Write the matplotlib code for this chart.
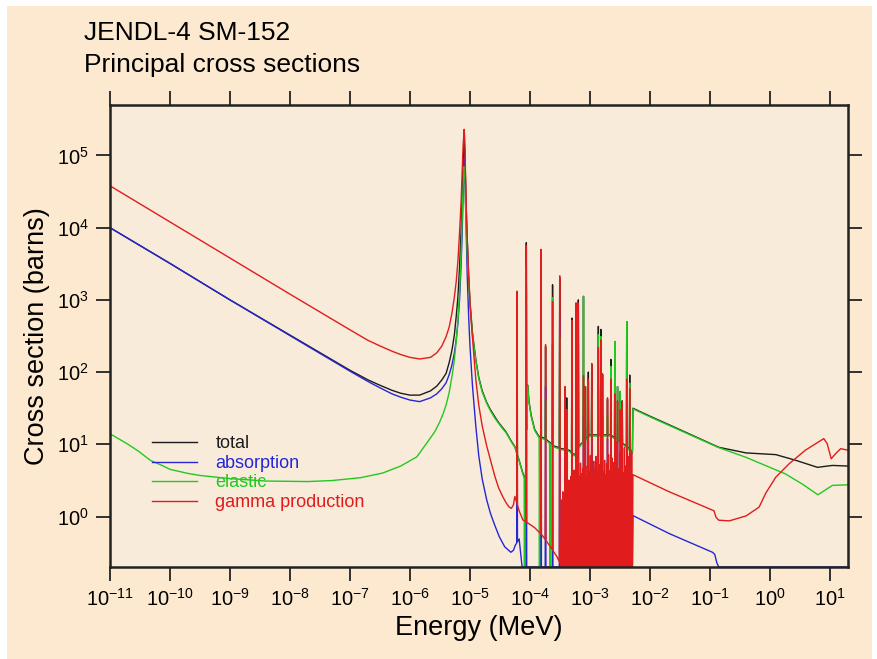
import numpy as np
import matplotlib.pyplot as plt
from matplotlib.patches import Rectangle
from matplotlib.ticker import NullLocator

plt.rcParams['font.family'] = ['Liberation Sans', 'DejaVu Sans']
plt.rcParams['axes.unicode_minus'] = False

# energies in MeV, cross sections in barns

# smooth parts of each curve
total_E = [1e-11, 1e-10, 1e-9, 1e-8, 1e-7, 2e-7, 3e-7, 5e-7, 7e-7, 1e-6,
           1.45e-6, 2.2e-6, 2.8e-6, 3.4e-6, 4.0e-6, 4.5e-6, 5.0e-6, 5.5e-6, 5.9e-6, 6.3e-6,
           6.7e-6, 7.1e-6, 7.4e-6, 7.7e-6, 8.0e-6, 8.2e-6, 8.4e-6, 8.7e-6, 9.0e-6, 9.5e-6,
           1.0e-5, 1.1e-5, 1.25e-5, 1.4e-5, 1.6e-5, 1.9e-5, 2.2e-5, 2.6e-5, 3.0e-5, 3.5e-5,
           4.0e-5, 4.5e-5, 4.9e-5, 5.6e-5, 6.6e-5, 7.6e-5, 8.4e-5, 9.2e-5, 9.6e-5, 1.05e-4,
           1.2e-4, 1.4e-4, 1.8e-4, 2.5e-4, 3.4e-4, 4.5e-4, 5.5e-4, 7e-4, 1e-3, 1.5e-3,
           2.2e-3, 3.2e-3, 4.3e-3, 5.1e-3, 5.2e-3, 1e-2, 2.1e-2, 0.14, 0.4, 1.25,
           2.7, 6.2, 11, 20]
total_sig = [1.0e4, 3.2e3, 1.0e3, 325, 106, 78, 67, 56, 51, 48,
             48, 55, 64, 78, 96, 135, 200, 330, 590, 1.1e3,
             2.8e3, 8.7e3, 2.5e4, 8e4, 1.6e5, 1.2e5, 5e4, 1.6e4, 7e3, 2.2e3,
             950, 350, 150, 85, 55, 38, 30, 24, 20, 17,
             14.8, 12.5, 11, 9.3, 6.0, 4.0, 3.2, 66, 40, 25,
             16, 13, 12, 9.5, 8.7, 8.3, 7.1, 10, 13.5, 13.5,
             13.5, 11, 9, 7.8, 31.6, 24.5, 18.6, 9.1, 7.6, 7.2,
             6.0, 4.8, 5.1, 5.0]

absorption_E = [1e-11, 1e-10, 1e-9, 1e-8, 1e-7, 2e-7, 3e-7, 5e-7, 7e-7, 1e-6,
                1.45e-6, 2.2e-6, 2.8e-6, 3.4e-6, 4.0e-6, 4.5e-6, 5.0e-6, 5.5e-6, 5.9e-6, 6.3e-6,
                6.7e-6, 7.1e-6, 7.4e-6, 7.7e-6, 8.0e-6, 8.2e-6, 8.4e-6, 8.7e-6, 9.0e-6, 9.5e-6,
                1.0e-5, 1.1e-5, 1.25e-5, 1.4e-5, 1.6e-5, 1.9e-5, 2.2e-5, 2.6e-5, 3.1e-5, 3.8e-5,
                4.8e-5, 5.3e-5, 5.7e-5, 6.6e-5, 7.4e-5, 5.1e-3, 5.2e-3, 2.1e-2, 0.11, 0.12,
                0.13, 0.14, 20]
absorption_sig = [1.0e4, 3.2e3, 1.0e3, 320, 103, 74, 62, 50, 45, 41,
                  39, 44, 50, 59, 71, 92, 125, 185, 280, 480,
                  1.0e3, 2.9e3, 8e3, 3e4, 9e4, 6e4, 2.5e4, 7e3, 2.2e3, 600,
                  230, 65, 18, 7, 3.3, 1.7, 1.1, 0.75, 0.52, 0.38,
                  0.32, 0.34, 0.4, 0.49, 0.2, 0.2, 1.03, 0.58, 0.32, 0.30,
                  0.23, 0.2, 0.2]

elastic_E = [1e-11, 2e-11, 3e-11, 4.7e-11, 7e-11, 1e-10, 2e-10, 3.2e-10, 1e-9, 4e-9,
             2e-8, 5e-8, 1.5e-7, 3.5e-7, 7e-7, 1.3e-6, 2.0e-6, 2.6e-6, 3.1e-6, 3.6e-6,
             4.0e-6, 4.5e-6, 5.1e-6, 5.5e-6, 5.9e-6, 6.3e-6, 6.7e-6, 7.1e-6, 7.4e-6, 7.7e-6,
             8.0e-6, 8.2e-6, 8.4e-6, 8.7e-6, 9.0e-6, 9.5e-6, 1.0e-5, 1.1e-5, 1.25e-5, 1.4e-5,
             1.6e-5, 1.9e-5, 2.2e-5, 2.6e-5, 3.0e-5, 3.5e-5, 4.0e-5, 4.5e-5, 4.9e-5, 5.6e-5,
             6.6e-5, 7.6e-5, 8.4e-5, 9.2e-5, 9.6e-5, 1.05e-4, 1.2e-4, 1.4e-4, 1.8e-4, 2.5e-4,
             3.4e-4, 4.5e-4, 5.5e-4, 7e-4, 1e-3, 1.5e-3, 2.2e-3, 3.2e-3, 4.3e-3, 5.1e-3,
             5.2e-3, 1e-2, 2.1e-2, 0.14, 0.4, 1.8, 3.5, 6.3, 11, 20]
elastic_sig = [14, 10, 8.0, 6.0, 5.2, 4.5, 3.95, 3.7, 3.35, 3.1,
               3.05, 3.15, 3.45, 4.0, 5.0, 6.7, 11, 15, 20, 27,
               35, 52, 95, 150, 270, 520, 1.3e3, 4.0e3, 1.3e4, 4e4,
               7e4, 6e4, 2.5e4, 9e3, 4.5e3, 1.8e3, 850, 330, 145, 82,
               53, 37, 29, 23, 19.5, 16.5, 14.5, 12.2, 10.8, 9.1,
               5.9, 3.9, 3.1, 64, 39, 24, 15.5, 12.6, 11.6, 9.2,
               8.4, 8.0, 6.9, 9.7, 13, 13, 13, 10.6, 8.7, 7.5,
               31, 24, 18.2, 9.0, 6.6, 3.9, 2.8, 2.0, 2.7, 2.75]

gamma_E = [1e-11, 1e-10, 1e-9, 1e-8, 1e-7, 2e-7, 3e-7, 5e-7, 7e-7, 1e-6,
           1.45e-6, 2.2e-6, 2.8e-6, 3.4e-6, 4.0e-6, 4.5e-6, 5.0e-6, 5.5e-6, 5.9e-6, 6.3e-6,
           6.7e-6, 7.1e-6, 7.4e-6, 7.7e-6, 8.0e-6, 8.2e-6, 8.4e-6, 8.7e-6, 9.0e-6, 9.5e-6,
           1.0e-5, 1.1e-5, 1.25e-5, 1.4e-5, 1.6e-5, 1.9e-5, 2.2e-5, 2.6e-5, 3.0e-5, 3.5e-5,
           4.0e-5, 4.5e-5, 4.9e-5, 5.3e-5, 5.6e-5, 6.6e-5, 7.6e-5, 9.5e-5, 1.2e-4, 1.6e-4,
           2.2e-4, 2.8e-4, 3.4e-4, 5.1e-3, 5.2e-3, 2.1e-2, 0.117, 0.126, 0.14, 0.21,
           0.4, 0.66, 0.85, 1.25, 2.1, 3.9, 7.9, 9.0, 10.5, 12.4,
           15.1, 20]
gamma_sig = [3.8e4, 1.2e4, 3.8e3, 1.2e3, 385, 275, 235, 195, 175, 160,
             152, 160, 185, 230, 310, 420, 650, 1.1e3, 1.8e3, 3.5e3,
             8.5e3, 2.2e4, 5.5e4, 1.4e5, 2.3e5, 1.6e5, 6e4, 1.8e4, 7e3, 2.2e3,
             900, 300, 80, 35, 18, 9.5, 6.0, 3.6, 2.5, 1.9,
             1.55, 1.35, 1.3, 1.45, 1.9, 1.2, 0.9, 0.8, 0.7, 0.55,
             0.38, 0.28, 0.2, 0.2, 3.8, 2.2, 1.2, 0.98, 0.89, 0.87,
             1.02, 1.35, 2.1, 3.5, 5.4, 8.3, 12.0, 10.2, 6.3, 7.4,
             8.7, 8.3]

# resolved resonances: energy and peak heights per reaction
res_E = [6.1e-5, 8.7e-5, 1.53e-4, 1.82e-4, 2.38e-4, 3.13e-4, 3.85e-4, 4.1e-4, 5.0e-4,
         5.85e-4, 6.4e-4, 7.8e-4, 8.4e-4, 9.4e-4, 1.07e-3, 1.38e-3, 1.52e-3, 1.62e-3,
         1.96e-3, 2.23e-3, 2.6e-3, 2.88e-3, 3.2e-3, 3.45e-3, 4.1e-3, 4.6e-3]
res_total = [1250, 6200, 4800, 225, 1620, 2000, 60, 44, 560,
             870, 1000, 1120, 63, 100, 128, 430, 390, 92,
             42, 150, 265, 63, 54, 40, 500, 91]
res_elastic = [20, 3000, 900, 40, 1070, 300, 15, 30, 200,
               150, 700, 1120, 60, 70, 50, 330, 310, 60,
               25, 120, 265, 63, 54, 35, 500, 70]
res_gamma = [1320, 5600, 5000, 240, 950, 2150, 63, 30, 520,
             910, 900, 90, 63, 80, 132, 220, 280, 95,
             44, 80, 50, 40, 30, 39, 80, 60]
res_absorption = [350, 1500, 1300, 63, 250, 570, 17, 8, 140,
                  240, 240, 24, 17, 21, 35, 58, 74, 25,
                  12, 21, 13, 11, 8, 10, 21, 16]

# interference dips of the elastic curve
dip_E = [8.1e-5, 1.44e-4, 2.15e-4]
dip_sig = [0.2, 0.2, 0.2]

# dense small gamma-production spikes near the end of the resolved range
fill_E = [3.39e-4, 3.53e-4, 3.68e-4, 3.97e-4, 4.27e-4, 4.45e-4, 4.63e-4, 4.83e-4,
          5.20e-4, 5.42e-4, 5.65e-4, 6.11e-4, 6.67e-4, 6.95e-4, 7.24e-4, 7.55e-4,
          8.09e-4, 8.71e-4, 9.06e-4, 9.75e-4, 1.016e-3, 1.109e-3, 1.156e-3, 1.205e-3,
          1.256e-3, 1.309e-3, 1.449e-3, 1.570e-3, 1.687e-3, 1.754e-3, 1.824e-3,
          1.897e-3, 2.042e-3, 2.128e-3, 2.312e-3, 2.404e-3, 2.500e-3, 2.716e-3,
          3.006e-3, 3.327e-3, 3.597e-3, 3.750e-3, 3.908e-3, 4.305e-3, 4.446e-3,
          4.775e-3, 4.955e-3]
fill_sig = [1.7, 2.2, 1.9, 2.8, 2.4, 3.2, 2.1, 3.6, 2.9, 4.4, 3.3, 4.8, 3.6, 5.5, 3.9,
            4.6, 6.2, 3.5, 5.0, 4.1, 7.0, 3.7, 5.8, 4.5, 6.8, 4.0, 5.2, 8.0, 4.2, 6.0,
            3.8, 5.4, 7.2, 4.3, 6.5, 3.9, 5.6, 11.0, 4.6, 6.3, 4.0, 9.0, 5.0, 4.2, 6.8,
            3.8, 7.8]

labels = ['total', 'absorption', 'elastic', 'gamma production']
colors = ['#1c1c1c', '#2626d6', '#22c822', '#e01c1c']
x_ticks = [1e-11, 1e-10, 1e-9, 1e-8, 1e-7, 1e-6, 1e-5, 1e-4, 1e-3, 1e-2, 1e-1, 1e0, 1e1]
y_ticks = [1e0, 1e1, 1e2, 1e3, 1e4, 1e5]


def add_spikes(bg_E, bg_sig, spike_E, spike_sig, half_width=0.006):
    """
    Insert narrow spikes into a smooth curve, working in log-log space.

    Args:
        bg_E, bg_sig: points of the smooth curve.
        spike_E, spike_sig: spike positions and their peak values.
        half_width (float): half width of a spike foot in decades.

    Returns:
        tuple: energies and cross sections, sorted by energy.
    """
    log_E = np.log10(bg_E)
    log_s = np.log10(bg_sig)
    xs = list(log_E)
    ys = list(log_s)
    for e, s in zip(spike_E, spike_sig):
        le = np.log10(e)
        for dx in (-half_width, half_width):
            xs.append(le + dx)
            ys.append(np.interp(le + dx, log_E, log_s))
        xs.append(le)
        ys.append(np.log10(s))
    order = np.argsort(xs, kind='stable')
    return 10 ** np.array(xs)[order], 10 ** np.array(ys)[order]


def plot_cross_sections():
    fig = plt.figure(figsize=(8.78, 6.59), dpi=100)
    fig.patch.set_facecolor('white')
    fig.add_artist(Rectangle((7 / 878, 0), 865 / 878, 653 / 659, transform=fig.transFigure,
                             facecolor='#fce9cf', edgecolor='none', zorder=-10))

    ax = fig.add_axes([110 / 878, 92 / 659, 738 / 878, 462 / 659])
    ax.set_facecolor('#f8ebda')

    curves = [
        add_spikes(total_E, total_sig, res_E, res_total),
        add_spikes(absorption_E, absorption_sig, res_E, res_absorption),
        add_spikes(elastic_E, elastic_sig, res_E + dip_E, res_elastic + dip_sig),
        add_spikes(gamma_E, gamma_sig, res_E + fill_E, res_gamma + fill_sig),
    ]
    for (e, s), label, color in zip(curves, labels, colors):
        ax.plot(e, s, color=color, lw=1.0, label=label)

    ax.set_xscale('log')
    ax.set_yscale('log')
    ax.set_xticks(x_ticks)
    ax.set_yticks(y_ticks)
    ax.xaxis.set_minor_locator(NullLocator())
    ax.yaxis.set_minor_locator(NullLocator())
    ax.set_xlim(1e-11, 20)
    ax.set_ylim(0.2, 5e5)
    ax.tick_params(which='major', direction='out', length=10, width=1.3, color='#222222',
                   top=True, right=True, labelsize=14.5, pad=5)

    for spine in ax.spines.values():
        spine.set_linewidth(1.8)
        spine.set_color('#222222')

    ax.set_xlabel('Energy (MeV)', fontsize=19.5, labelpad=4)
    ax.set_ylabel('Cross section (barns)', fontsize=19.5, labelpad=5)

    ax.legend(loc='upper left', bbox_to_anchor=(0.057, 0.285), frameon=False,
              fontsize=13, handlelength=2.5, handletextpad=1.0, labelspacing=0.14,
              borderaxespad=0, borderpad=0, labelcolor='linecolor')

    fig.text(84 / 878, 1 - 40 / 659, 'JENDL-4 SM-152', fontsize=19, va='baseline')
    fig.text(84 / 878, 1 - 72 / 659, 'Principal cross sections', fontsize=19, va='baseline')

    fig.savefig('out.png', dpi=100, facecolor=fig.get_facecolor())


if __name__ == "__main__":
    plot_cross_sections()
